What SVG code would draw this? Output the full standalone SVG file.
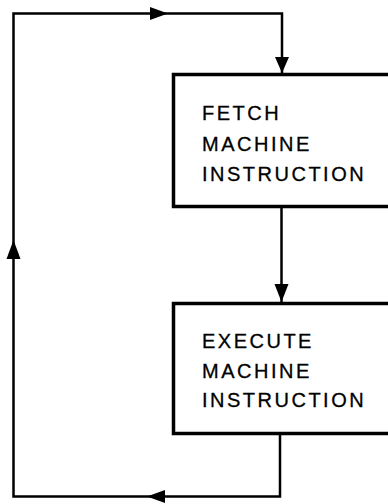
<svg xmlns="http://www.w3.org/2000/svg" width="388" height="504" viewBox="0 0 388 504">
<style>
.box{fill:#fff;stroke:#000;stroke-width:3.5}
.ln{fill:none;stroke:#000;stroke-width:2.5;stroke-linejoin:miter}
.ah{fill:#000;stroke:none}
.t{font-family:"Liberation Sans",Arial,sans-serif;font-size:20px;letter-spacing:2.5px;fill:#000;stroke:#000;stroke-width:0.3}
</style>
<rect width="388" height="504" fill="#fff"/>
<g id="connectors">
<path class="ln" d="M282,74 V13.5 H13.5 V496.5 H280 V433.5"/>
<path class="ln" d="M281.5,206.5 V303"/>
<polygon class="ah" points="168,13.5 150,7 150,20"/>
<polygon class="ah" points="282,73 275,57 289,57"/>
<polygon class="ah" points="281.5,302 274.5,284 288.5,284"/>
<polygon class="ah" points="147,496.5 165,490 165,503"/>
<polygon class="ah" points="13.5,240 6.5,259 20.5,259"/>
</g>
<g id="fetch">
<rect class="box" x="173.5" y="74.5" width="240" height="132"/>
<text class="t" x="202" y="120">FETCH</text>
<text class="t" x="202" y="151">MACHINE</text>
<text class="t" x="202" y="181">INSTRUCTION</text>
</g>
<g id="execute">
<rect class="box" x="173.5" y="303.5" width="240" height="130"/>
<text class="t" x="202" y="348">EXECUTE</text>
<text class="t" x="202" y="377.5">MACHINE</text>
<text class="t" x="202" y="407">INSTRUCTION</text>
</g>
</svg>
